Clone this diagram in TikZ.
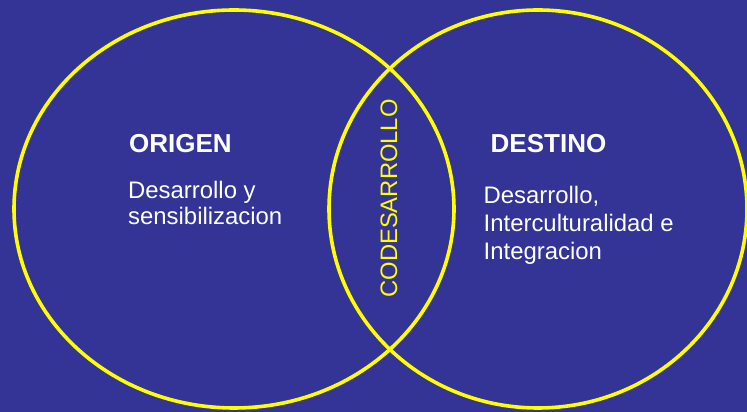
\documentclass[tikz,border=0pt]{standalone}
\usepackage{fontspec}
\setmainfont{Liberation Sans}
\definecolor{bgblue}{RGB}{52,52,150}
\definecolor{ringyellow}{RGB}{255,255,0}
\tikzset{
  ring/.style={draw=ringyellow, line width=3.6pt},
  headtxt/.style={anchor=base west, inner sep=0pt, text=white, font=\bfseries\fontsize{26}{30}\selectfont},
  bodytxt/.style={anchor=base west, inner sep=0pt, text=white, font=\fontsize{23.9}{27}\selectfont},
  midtxt/.style={anchor=base, inner sep=0pt, text=ringyellow, rotate=90, font=\fontsize{23.8}{27}\selectfont}
}
\begin{document}
\begin{tikzpicture}[x=1pt,y=1pt]
\useasboundingbox (0,0) rectangle (747,412);
\fill[bgblue] (0,0) rectangle (747,412);
% circles
\draw[ring] (234,203) ellipse [x radius=220pt, y radius=199pt];
\draw[ring] (538,203) ellipse [x radius=209pt, y radius=199pt];
% left texts
\node[headtxt] (origen) at (129,259) {ORIGEN};
\node[bodytxt] (o1) at (128,213.7) {Desarrollo y};
\node[bodytxt] (o2) at (128,187) {sensibilizacion};
% right texts
\node[headtxt] (destino) at (490.5,259) {DESTINO};
\node[bodytxt] (d1) at (483.5,208.7) {Desarrollo,};
\node[bodytxt] (d2) at (483.5,180.3) {Interculturalidad e};
\node[bodytxt] (d3) at (483.5,152) {Integracion};
% middle
\node[midtxt] (codes) at (397,213.5) {CODESARROLLO};
\end{tikzpicture}
\end{document}
